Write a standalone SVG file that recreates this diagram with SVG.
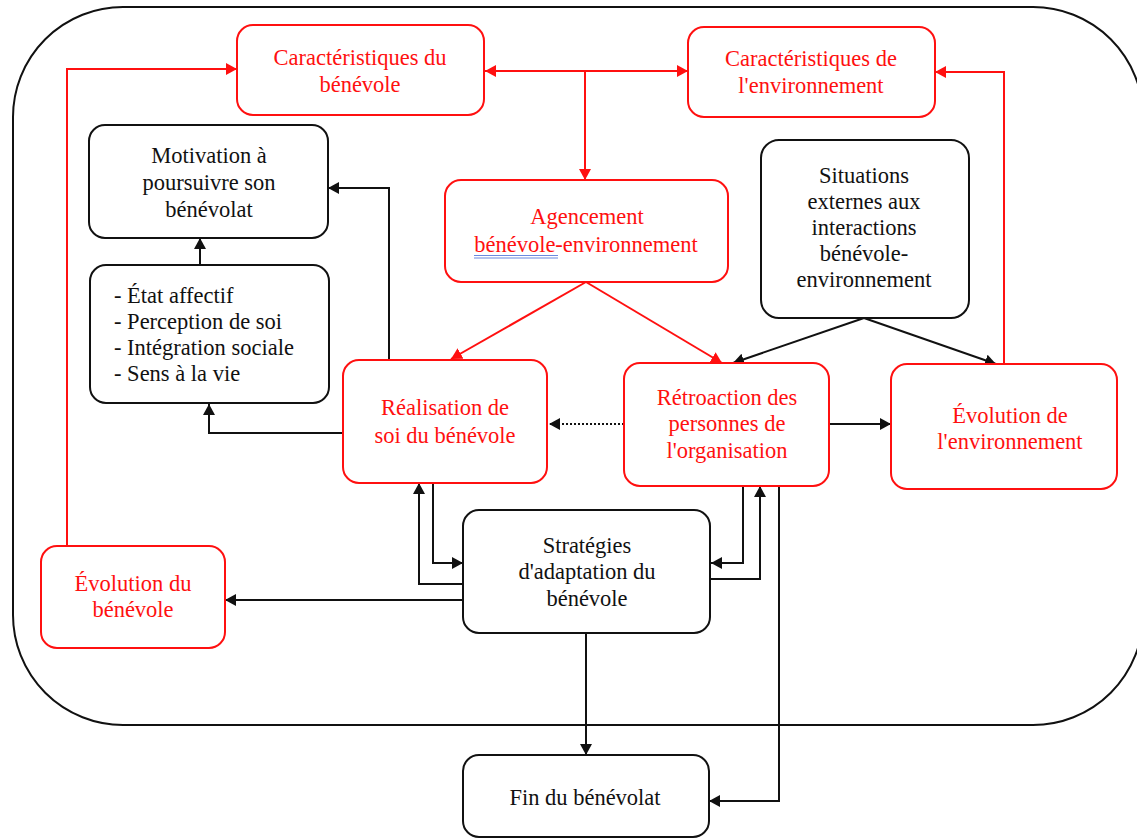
<svg xmlns="http://www.w3.org/2000/svg" width="1137" height="838" viewBox="0 0 1137 838">
<style>
.r{fill:#fff;stroke:#ff1010;stroke-width:2}
.k{fill:#fff;stroke:#111;stroke-width:2}
text{font-family:"Liberation Serif","Times New Roman",serif;font-size:22.5px;text-anchor:middle}
text.s{text-anchor:start}
.tr{fill:#ff1010}
.tk{fill:#111}
.cr{fill:none;stroke:#ff1010;stroke-width:2}
.ck{fill:none;stroke:#111;stroke-width:2}
</style>
<defs>
<marker id="ar" markerUnits="userSpaceOnUse" markerWidth="12" markerHeight="12" refX="11" refY="6" orient="auto-start-reverse"><path d="M0,0 L11,6 L0,12 z" fill="#ff1010"/></marker>
<marker id="ak" markerUnits="userSpaceOnUse" markerWidth="12" markerHeight="12" refX="11" refY="6" orient="auto"><path d="M0,0 L11,6 L0,12 z" fill="#111"/></marker>
</defs>
<rect x="13" y="7" width="1130" height="718" rx="110" ry="110" fill="none" stroke="#111" stroke-width="2"/>
<g id="connectors">
<path class="cr" d="M67,546 V69 H237" marker-end="url(#ar)"/>
<path class="cr" d="M485,71 H688" marker-start="url(#ar)" marker-end="url(#ar)"/>
<path class="cr" d="M585,71 V180" marker-end="url(#ar)"/>
<path class="cr" d="M586,282 L451,359" marker-end="url(#ar)"/>
<path class="cr" d="M586,282 L722,363" marker-end="url(#ar)"/>
<path class="cr" d="M1004,364 V72 H935" marker-end="url(#ar)"/>
<path class="ck" d="M864,318 L733,363" marker-end="url(#ak)"/>
<path class="ck" d="M864,318 L996,364" marker-end="url(#ak)"/>
<path class="ck" d="M389,360 V188 H328" marker-end="url(#ak)"/>
<path class="ck" d="M200,265 V238" marker-end="url(#ak)"/>
<path class="ck" d="M343,433 H209 V404" marker-end="url(#ak)"/>
<path class="ck" d="M624,424 H549" stroke-dasharray="2,2" stroke-width="1.6" marker-end="url(#ak)"/>
<path class="ck" d="M829,424 H891" marker-end="url(#ak)"/>
<path class="ck" d="M433,483 V563 H463" marker-end="url(#ak)"/>
<path class="ck" d="M463,584 H419 V483" marker-end="url(#ak)"/>
<path class="ck" d="M743,486 V563 H711" marker-end="url(#ak)"/>
<path class="ck" d="M711,579 H760 V486" marker-end="url(#ak)"/>
<path class="ck" d="M779,486 V801 H709" marker-end="url(#ak)"/>
<path class="ck" d="M586,633 V755" marker-end="url(#ak)"/>
<path class="ck" d="M463,600 H225" marker-end="url(#ak)"/>
</g>
<g id="car-benevole"><rect class="r" x="237" y="25" width="247" height="90" rx="16"/><text class="tr" x="360" y="65">Caractéristiques du</text><text class="tr" x="360" y="92">bénévole</text></g>
<g id="car-env"><rect class="r" x="688" y="27" width="247" height="90" rx="16"/><text class="tr" x="811" y="66">Caractéristiques de</text><text class="tr" x="811" y="93">l'environnement</text></g>
<g id="motivation"><rect class="k" x="89" y="125" width="239" height="113" rx="16"/><text class="tk" x="209" y="163">Motivation à</text><text class="tk" x="209" y="190">poursuivre son</text><text class="tk" x="209" y="217">bénévolat</text></g>
<g id="facteurs"><rect class="k" x="90" y="265" width="239" height="138" rx="16"/><text class="tk s" x="114" y="303">- État affectif</text><text class="tk s" x="114" y="329">- Perception de soi</text><text class="tk s" x="114" y="355">- Intégration sociale</text><text class="tk s" x="114" y="381">- Sens à la vie</text></g>
<g id="agencement"><rect class="r" x="445" y="180" width="283" height="102" rx="16"/><text class="tr" x="587" y="224">Agencement</text><text class="tr" x="586" y="252">bénévole-environnement</text><path d="M474,255.5 H558 M474,258 H558" stroke="#6a8ae0" stroke-width="1.2" fill="none"/></g>
<g id="situations"><rect class="k" x="761" y="140" width="208" height="178" rx="18"/><text class="tk" x="864" y="183">Situations</text><text class="tk" x="864" y="209">externes aux</text><text class="tk" x="864" y="235">interactions</text><text class="tk" x="864" y="261">bénévole-</text><text class="tk" x="864" y="287">environnement</text></g>
<g id="realisation"><rect class="r" x="343" y="360" width="204" height="123" rx="16"/><text class="tr" x="445" y="415">Réalisation de</text><text class="tr" x="445" y="443">soi du bénévole</text></g>
<g id="retroaction"><rect class="r" x="624" y="363" width="205" height="123" rx="16"/><text class="tr" x="727" y="405">Rétroaction des</text><text class="tr" x="727" y="431">personnes de</text><text class="tr" x="727" y="458">l'organisation</text></g>
<g id="evolution-env"><rect class="r" x="891" y="364" width="226" height="125" rx="16"/><text class="tr" x="1010" y="423">Évolution de</text><text class="tr" x="1010" y="449">l'environnement</text></g>
<g id="strategies"><rect class="k" x="463" y="510" width="247" height="123" rx="16"/><text class="tk" x="587" y="553">Stratégies</text><text class="tk" x="587" y="579">d'adaptation du</text><text class="tk" x="587" y="606">bénévole</text></g>
<g id="evolution-benevole"><rect class="r" x="41" y="546" width="184" height="102" rx="16"/><text class="tr" x="133" y="591">Évolution du</text><text class="tr" x="133" y="617">bénévole</text></g>
<g id="fin"><rect class="k" x="463" y="755" width="246" height="82" rx="16"/><text class="tk" x="585" y="805">Fin du bénévolat</text></g>
</svg>
